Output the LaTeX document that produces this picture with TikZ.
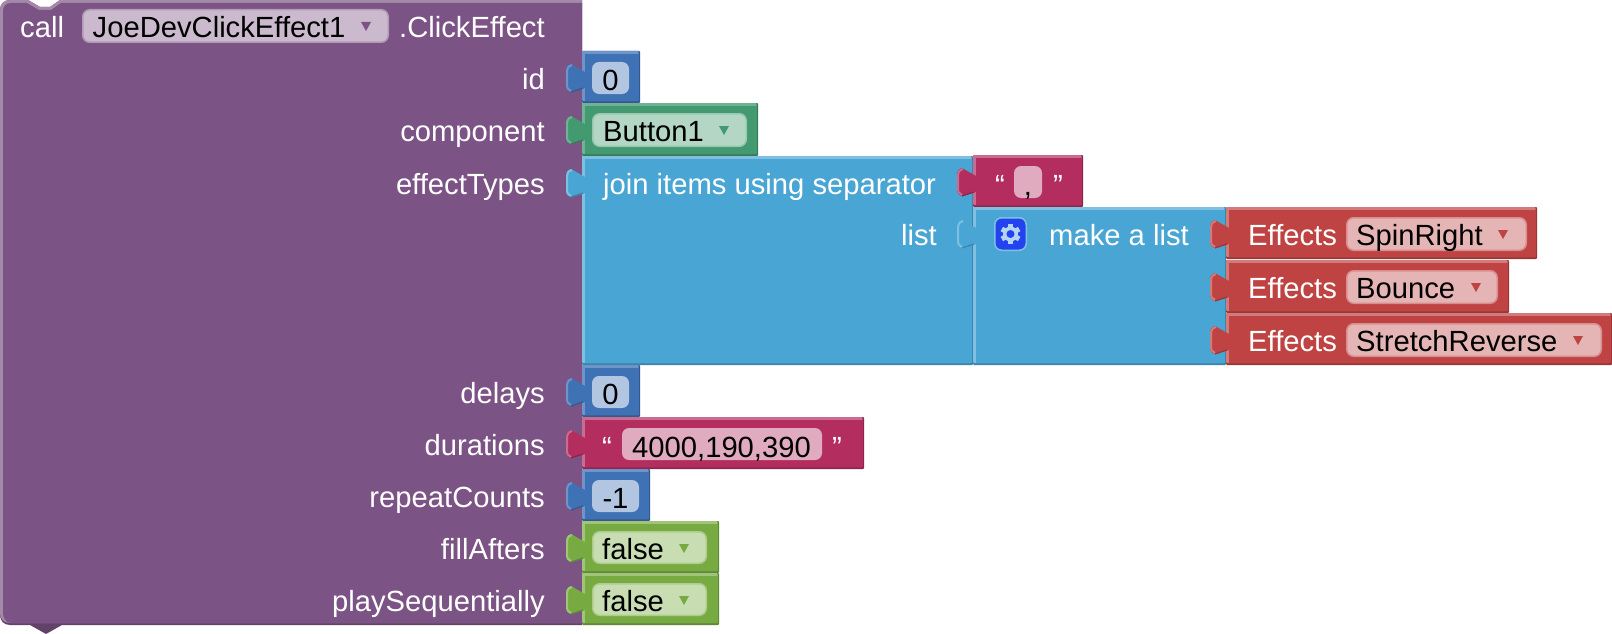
\documentclass[tikz,border=0pt]{standalone}
\usepackage{fontspec}
\setmainfont{Liberation Sans}
\definecolor{call}{HTML}{7C5385}
\definecolor{calllight}{HTML}{A48AA9}
\definecolor{calldark}{HTML}{63426A}
\definecolor{callfield}{HTML}{CBBACE}
\definecolor{calledge}{HTML}{B09AB5}
\definecolor{num}{HTML}{3F71B5}
\definecolor{numlight}{HTML}{6F94C9}
\definecolor{numdark}{HTML}{325A90}
\definecolor{numfield}{HTML}{B2C6E1}
\definecolor{comp}{HTML}{439970}
\definecolor{complight}{HTML}{6FB394}
\definecolor{compdark}{HTML}{357A59}
\definecolor{compfield}{HTML}{B3D6C5}
\definecolor{compedge}{HTML}{99C8B1}
\definecolor{lst}{HTML}{49A6D4}
\definecolor{lstlight}{HTML}{7FC0E1}
\definecolor{lstdark}{HTML}{3A85AA}
\definecolor{txt}{HTML}{B32D5E}
\definecolor{txtlight}{HTML}{C96C8F}
\definecolor{txtdark}{HTML}{8F244B}
\definecolor{txtfield}{HTML}{E1ABBF}
\definecolor{eff}{HTML}{BF4343}
\definecolor{efflight}{HTML}{D27B7B}
\definecolor{effdark}{HTML}{993636}
\definecolor{efffield}{HTML}{E5B4B4}
\definecolor{effedge}{HTML}{D98E8E}
\definecolor{lgc}{HTML}{77AB41}
\definecolor{lgclight}{HTML}{A0C47A}
\definecolor{lgcdark}{HTML}{5F8934}
\definecolor{lgcfield}{HTML}{C9DDB3}
\definecolor{lgcedge}{HTML}{ADCC8D}
\definecolor{gearback}{HTML}{2443F0}
\definecolor{gear}{HTML}{B5D4F0}
\newcommand{\blockfont}{\fontsize{29.2}{34}\selectfont}
\tikzset{
    lbl/.style={font=\blockfont, text=white, inner sep=0pt, anchor=base west, yshift=-2pt},
    lblright/.style={lbl, anchor=base east},
    val/.style={font=\blockfont, text=black, inner sep=0pt, anchor=base west, yshift=-2pt},
    fieldbox/.style={rounded corners=7pt, line width=1.5pt}
}
% block body with its tab on the left edge
\newcommand{\valueblock}[5]{
    \fill[#5dark, rounded corners=1pt] (#1,#2) rectangle (#3,#4);
    \fill[#5light, rounded corners=1pt] (#1,#2) rectangle ({#3-1.5},{#4-2});
    \fill[#5] ({#1+3},{#2+3}) rectangle ({#3-1.5},{#4-2});
    \fill[#5] ({#1+3},{#2+21}) -- ({#1-11},{#2+13})
        .. controls ({#1-16},{#2+14}) and ({#1-16},{#2+18}) .. ({#1-16},{#2+23})
        -- ({#1-16},{#2+33})
        .. controls ({#1-16},{#2+38}) and ({#1-15},{#2+40}) .. ({#1-11},{#2+41})
        -- ({#1+3},{#2+37}) -- cycle;
    \draw[#5light, line width=2pt] ({#1-10},{#2+14})
        .. controls ({#1-15},{#2+15}) and ({#1-15},{#2+19}) .. ({#1-15},{#2+23})
        -- ({#1-15},{#2+33})
        .. controls ({#1-15},{#2+37}) and ({#1-14},{#2+39}) .. ({#1-11},{#2+40});
    \draw[#5dark, line width=1.2pt] ({#1-11},{#2+41}) -- ({#1+1},{#2+37});
}
\newcommand{\dropfield}[7]{
    \draw[fieldbox, #5edge, fill=#5field] ({#1+.75},{#2+.75}) rectangle ({#3-.75},{#4-.75});
    \fill[#7] ({#6-5},{#2+13}) -- ({#6+5},{#2+13}) -- (#6,{#2+22}) -- cycle;
}
\newcommand{\textfield}[5]{
    \fill[fieldbox, #5field] (#1,#2) rectangle (#3,#4);
}
\begin{document}
\begin{tikzpicture}[x=1pt,y=-1pt]
    \useasboundingbox (0,0) rectangle (1612,634);

    \fill[calldark] (0,10) .. controls (0,4) and (4,0) .. (10,0) -- (28,0)
        -- (40,7) -- (50,7) -- (60,0) -- (582,0) -- (582,625) -- (62,625)
        -- (46,634) -- (30,625) -- (10,625)
        .. controls (4,625) and (0,621) .. (0,615) -- cycle;
    \fill[calllight] (0,10) .. controls (0,4) and (4,0) .. (10,0) -- (28,0)
        -- (40,7) -- (50,7) -- (60,0) -- (582,0) -- (582,623) -- (10,623)
        .. controls (4,623) and (0,619) .. (0,613) -- cycle;
    \fill[call] (3,11) .. controls (3,6) and (6,3) .. (11,3) -- (27,3)
        -- (39,10) -- (51,10) -- (61,3) -- (582,3) -- (582,623) -- (11,623)
        .. controls (6,623) and (3,618) .. (3,613) -- cycle;

    \node[lbl] (call) at (20,35.5) {call};
    \dropfield{82}{9}{389}{43}{call}{366}{call}
    \node[val] (component name) at (92.5,35.5) {JoeDevClickEffect1};
    \node[lbl] (method) at (399,35.5) {.ClickEffect};

    \node[lblright] (id) at (545,87.5) {id};
    \node[lblright] (component) at (545,139.5) {component};
    \node[lblright] (effectTypes) at (545,192) {effectTypes};
    \node[lblright] (delays) at (545,401.5) {delays};
    \node[lblright] (durations) at (545,453.5) {durations};
    \node[lblright] (repeatCounts) at (545,505.5) {repeatCounts};
    \node[lblright] (fillAfters) at (545,557.5) {fillAfters};
    \node[lblright] (playSequentially) at (545,609.5) {playSequentially};

    \valueblock{582}{51}{640}{103}{num}
    \textfield{592}{62}{629}{94}{num}
    \node[val, anchor=base] (id value) at (610.5,88) {0};

    \valueblock{582}{103}{758}{156}{comp}
    \dropfield{592}{113}{747}{147}{comp}{724}{comp}
    \node[val] (button) at (603,139.5) {Button1};

    \valueblock{582}{156}{973}{365}{lst}
    \node[lbl] (join) at (603,192) {join items using separator};
    \node[lblright] (list) at (937,243.5) {list};

    \valueblock{973}{155}{1083}{207}{txt}
    \node[lbl] (open comma) at (995,193) {“};
    \textfield{1014}{166}{1042}{198}{txt}
    \node[val, anchor=base] (comma) at (1028,193) {,};
    \node[lbl] (close comma) at (1053,193) {”};

    \valueblock{973}{207}{1226}{365}{lst}
    \draw[fieldbox, lstlight, fill=gearback] (994.75,217.75) rectangle (1026.25,250.25);
    \foreach \a in {0,60,...,300}
        \fill[gear, rotate around={\a:(1010.5,234)}] (1008,224) rectangle (1013,228);
    \fill[gear] (1010.5,234) circle (7.5pt);
    \fill[gearback] (1010.5,234) circle (4pt);
    \node[lbl] (make list) at (1049,243.5) {make a list};

    \valueblock{1226}{207}{1537}{259}{eff}
    \node[lbl] (effects a) at (1248,243) {Effects};
    \dropfield{1346}{217}{1527}{251}{eff}{1503}{eff}
    \node[val] (spin) at (1356,243.5) {SpinRight};

    \valueblock{1226}{260}{1509}{313}{eff}
    \node[lbl] (effects b) at (1248,296) {Effects};
    \dropfield{1346}{270}{1498}{304}{eff}{1476}{eff}
    \node[val] (bounce) at (1356,296.5) {Bounce};

    \valueblock{1226}{313}{1612}{365}{eff}
    \node[lbl] (effects c) at (1248,349) {Effects};
    \dropfield{1346}{323}{1602}{357}{eff}{1578}{eff}
    \node[val] (stretch) at (1356,349.5) {StretchReverse};

    \valueblock{582}{365}{640}{417}{num}
    \textfield{592}{376}{629}{408}{num}
    \node[val, anchor=base] (delay value) at (610.5,402.5) {0};

    \valueblock{582}{417}{864}{469}{txt}
    \node[lbl] (open dur) at (602,455) {“};
    \textfield{622}{428}{822}{460}{txt}
    \node[val] (dur value) at (632,455) {4000,190,390};
    \node[lbl] (close dur) at (832,455) {”};

    \valueblock{582}{469}{650}{521}{num}
    \textfield{592}{480}{639}{512}{num}
    \node[val, anchor=base] (repeat value) at (615.5,506.5) {-1};

    \valueblock{582}{521}{719}{573}{lgc}
    \dropfield{592}{531}{707}{564}{lgc}{684}{lgc}
    \node[val] (fill value) at (602,557.5) {false};

    \valueblock{582}{573}{719}{625}{lgc}
    \dropfield{592}{583}{707}{616}{lgc}{684}{lgc}
    \node[val] (seq value) at (602,609.5) {false};
\end{tikzpicture}
\end{document}
